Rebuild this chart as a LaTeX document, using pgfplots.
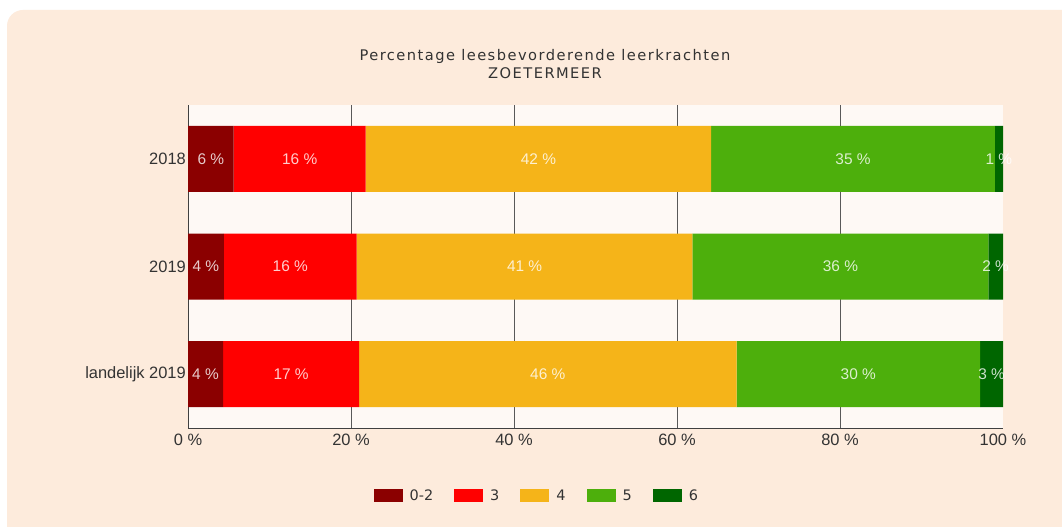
\documentclass[border=0pt]{standalone}
\usepackage{fontspec}
\usepackage{pgfplots}
\pgfplotsset{compat=1.18}
\setmainfont{DejaVu Sans}
\newfontfamily\ticksf{Liberation Sans}
\newfontfamily\titlef{DejaVu Sans}[LetterSpace=10]

\definecolor{panel}{HTML}{FDEBDC}
\definecolor{plotbg}{HTML}{FEF9F5}
\definecolor{c02}{HTML}{8B0000}
\definecolor{c3}{HTML}{FF0000}
\definecolor{c4}{HTML}{F5B419}
\definecolor{c5}{HTML}{4DAF0C}
\definecolor{c6}{HTML}{006600}
\definecolor{txt}{HTML}{333333}

\begin{document}
\begin{tikzpicture}
\useasboundingbox (0,0) rectangle (1062bp,527bp);
\fill[white] (0,0) rectangle (1062bp,527bp);
\begin{scope}
  \clip (0,0) rectangle (1062bp,527bp);
  \fill[panel, rounded corners=16bp] (7bp,517bp) rectangle (1090bp,-30bp);
\end{scope}

% title
\node[font=\titlef\fontsize{14.7}{14.7}\selectfont, text=txt, anchor=base] at (545bp,466bp) {Percentage leesbevorderende leerkrachten};
\node[font=\titlef\fontsize{14.7}{14.7}\selectfont, text=txt, anchor=base] at (545bp,448bp) {ZOETERMEER};

\begin{axis}[
  at={(188bp,99bp)}, anchor=south west,
  scale only axis, width=815bp, height=323bp,
  xbar stacked, bar width=66bp,
  xmin=0, xmax=100, ymin=-0.5, ymax=2.5, y dir=reverse,
  ytick={0,1,2}, yticklabels={2018,2019,landelijk 2019},
  xtick={0,20,...,100}, xticklabels={0 \%,20 \%,40 \%,60 \%,80 \%,100 \%},
  minor xtick={20,40,60,80}, xminorgrids,
  minor grid style={color=black!65, line width=0.8bp},
  major tick length=0, minor tick length=0,
  axis x line*=bottom, axis y line*=left,
  axis line style={color=black!75, line width=1bp},
  axis background/.style={fill=plotbg},
  tick label style={font=\ticksf\fontsize{16.5}{16.5}\selectfont, text=txt},
  yticklabel style={inner xsep=2bp},
  xticklabel style={inner ysep=6bp},
  legend columns=5,
  legend style={at={(0.428,-0.21)}, anchor=center, draw=none, fill=none,
    font=\fontsize{14.5}{14.5}\selectfont, text=txt,
    /tikz/every odd column/.append style={column sep=5bp},
    /tikz/every even column/.append style={column sep=19bp}},
  legend image code/.code={\fill[#1] (0bp,-6.5bp) rectangle (29bp,6.5bp);},
]
\addplot[fill=c02, draw=none] coordinates {(5.6,0) (4.4,1) (4.3,2)};
\addplot[fill=c3, draw=none] coordinates {(16.2,0) (16.3,1) (16.7,2)};
\addplot[fill=c4, draw=none] coordinates {(42.4,0) (41.2,1) (46.3,2)};
\addplot[fill=c5, draw=none] coordinates {(34.8,0) (36.3,1) (29.9,2)};
\addplot[fill=c6, draw=none] coordinates {(1.0,0) (1.8,1) (2.8,2)};
\legend{0-2,3,4,5,6}
\end{axis}

% value labels, centred in each segment
\begin{axis}[
  at={(188bp,99bp)}, anchor=south west,
  scale only axis, width=815bp, height=323bp,
  xmin=0, xmax=100, ymin=-0.5, ymax=2.5, y dir=reverse,
  hide axis, clip=false,
]
\addplot[only marks, mark=*, mark size=0pt, mark options={draw=none, fill=none},
  point meta=explicit symbolic, nodes near coords,
  every node near coord/.style={anchor=center, text=white, text opacity=0.8,
    font=\ticksf\fontsize{15.5}{15.5}\selectfont}]
coordinates {
  (2.8,0) [6 \%]   (13.7,0) [16 \%]  (43.0,0) [42 \%]  (81.6,0) [35 \%]  (99.5,0) [1 \%]
  (2.2,1) [4 \%]   (12.55,1) [16 \%] (41.3,1) [41 \%]  (80.05,1) [36 \%] (99.1,1) [2 \%]
  (2.15,2) [4 \%]  (12.65,2) [17 \%] (44.15,2) [46 \%] (82.25,2) [30 \%] (98.6,2) [3 \%]
};
\end{axis}
\end{tikzpicture}
\end{document}
